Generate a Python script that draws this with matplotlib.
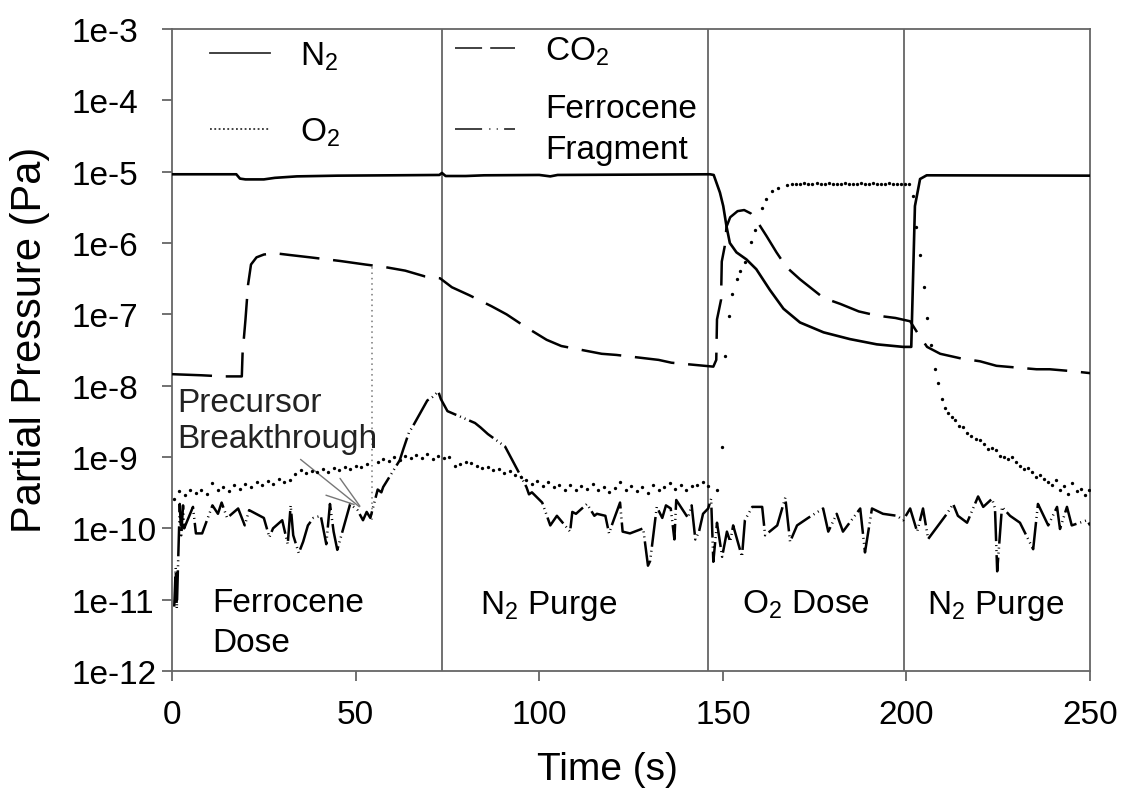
import numpy as np
import matplotlib
matplotlib.use('Agg')
import matplotlib.pyplot as plt
from matplotlib.lines import Line2D
from matplotlib.ticker import NullLocator

plt.rcParams['font.family'] = ['Liberation Sans', 'DejaVu Sans']
plt.rcParams['mathtext.fontset'] = 'custom'
plt.rcParams['mathtext.rm'] = 'Liberation Sans'
plt.rcParams['mathtext.it'] = 'Liberation Sans:italic'
plt.rcParams['mathtext.bf'] = 'Liberation Sans:bold'
plt.rcParams['mathtext.default'] = 'regular'

# ---- data ----
n2_time = [0, 17.5, 18.5, 20, 25, 28, 34, 45, 60, 72.8, 73.5, 74.5, 80, 85, 100, 103, 105,
           146.5, 147.5, 149.2, 150.1, 151, 151.9, 153.7, 156.4, 159.1, 162.8, 166.5, 171,
           177.4, 184.6, 191.9, 199.1, 201.3, 202.3, 203.7, 205.5, 250]
n2_pa = [9.2e-6, 9.2e-6, 8.0e-6, 7.8e-6, 7.8e-6, 8.2e-6, 8.6e-6, 8.8e-6, 8.9e-6, 9.0e-6, 9.6e-6,
         8.7e-6, 8.7e-6, 8.9e-6, 9.0e-6, 8.6e-6, 9.0e-6,
         9.2e-6, 9.0e-6, 5.1e-6, 3.3e-6, 1.7e-6, 1.0e-6, 7.4e-7, 5.9e-7, 4.3e-7, 2.2e-7, 1.2e-7, 7.7e-8,
         5.6e-8, 4.5e-8, 3.8e-8, 3.5e-8, 3.5e-8, 3.3e-6, 7.9e-6, 8.9e-6, 8.8e-6]

co2_time = [0, 8, 14, 19, 19.2, 20, 20.7, 21.5, 23, 25, 28, 32, 37.6, 45.8, 52.6, 58, 63.5, 68.9,
            73, 76.2, 81, 87, 91.1, 96, 102, 106, 117, 121, 132.5, 136, 147.4,
            148.2, 148.4, 149.5, 149.7, 150.5, 151, 152, 154, 155.8, 157.6, 159.1, 161.9, 164.6,
            167.3, 171, 177.4, 182, 187, 192, 197, 201, 202.9, 205.6, 209.2, 215, 220, 224.5,
            235.4, 239, 245, 250]
co2_pa = [1.45e-8, 1.4e-8, 1.35e-8, 1.35e-8, 2.8e-8, 8.5e-8, 2.6e-7, 5.0e-7, 6.3e-7, 6.9e-7, 7.2e-7,
          6.8e-7, 6.3e-7, 5.6e-7, 5.0e-7, 4.6e-7, 4.1e-7, 3.4e-7,
          3.2e-7, 2.4e-7, 1.85e-7, 1.3e-7, 1.0e-7, 6.8e-8, 4.4e-8, 3.6e-8, 2.8e-8, 2.7e-8, 2.3e-8,
          2.1e-8, 1.85e-8,
          2.3e-8, 8.5e-8, 1.6e-7, 5.5e-7, 9.0e-7, 1.7e-6, 2.3e-6, 2.8e-6, 2.9e-6, 2.6e-6, 2.1e-6,
          1.25e-6, 7.4e-7, 4.6e-7, 3.1e-7, 1.7e-7, 1.4e-7, 1.1e-7, 9.6e-8, 8.9e-8, 8.0e-8, 5.6e-8,
          3.5e-8, 2.8e-8, 2.4e-8, 2.2e-8, 1.9e-8, 1.7e-8, 1.7e-8, 1.6e-8, 1.5e-8]

o2_time = [0.5, 2, 3.5, 5, 6.5, 8, 9.5, 11, 12.5, 14,
           15.5, 17, 18.5, 20, 21.5, 23, 24.5, 26, 27.5, 29,
           30.5, 32, 33.5, 35, 36.5, 38, 39.5, 41, 42.5, 44,
           45.5, 47, 48.5, 50, 51.5, 53, 56, 57.5, 59, 60.5,
           62, 63.5, 65, 66.5, 68, 69.5, 71, 72.5, 74, 75.5,
           77, 78.5, 80, 81.5, 83, 84.5, 86, 87.5, 89, 90.5,
           92, 93.5, 95, 96.5, 98, 99.5, 101, 102.5, 104, 105.5,
           107, 108.5, 110, 111.5, 113, 114.5, 116, 117.5, 119, 120.5,
           122, 123.5, 125, 126.5, 128, 129.5, 131, 132.5, 134, 135.5,
           137, 138.5, 140, 141.5, 143, 144.5, 146, 148.5, 149.8, 150.6,
           151.7, 152.6, 153.8, 154.7, 156, 157.6, 158.8, 160.6, 161.7, 163.3,
           165.1, 167.4, 168.9, 170, 171.1, 172.2, 173.3, 174.4, 175.5, 176.6,
           177.7, 178.8, 179.9, 181, 182.1, 183.2, 184.3, 185.4, 186.5, 187.6,
           188.7, 189.8, 190.9, 192, 193.1, 194.2, 195.3, 196.4, 197.5, 198.6,
           199.7, 200.8, 201.8, 202.6, 203.7, 204.7, 205.6, 206.7, 207.7, 208.7,
           209.7, 210.5, 211.4, 212.3, 213.3, 214.4, 215.5, 216.6, 217.7, 218.8,
           219.9, 221, 222.1, 223.2, 224.3, 225.4, 226.5, 227.6, 228.7, 229.8,
           230.9, 232, 233.1, 234.2, 235.3, 236.4, 237.5, 238.6, 239.7, 240.8,
           241.9, 243, 244.1, 245.2, 246.3, 247.4, 248.5, 249.6]
o2_pa = [2.6e-10, 3.3e-10, 2.9e-10, 3.5e-10, 3.1e-10, 3.4e-10, 3.0e-10, 4.3e-10, 3.4e-10, 3.8e-10,
         3.3e-10, 4.0e-10, 3.6e-10, 4.2e-10, 3.8e-10, 4.5e-10, 4.0e-10, 4.6e-10, 4.2e-10, 5.0e-10,
         4.4e-10, 4.8e-10, 5.8e-10, 6.6e-10, 6.0e-10, 6.4e-10, 6.1e-10, 6.7e-10, 6.2e-10, 7.0e-10,
         6.5e-10, 7.3e-10, 6.9e-10, 7.6e-10, 7.2e-10, 8.0e-10, 8.6e-10, 9.3e-10, 8.8e-10, 1.0e-9,
         9.2e-10, 1.05e-9, 9.6e-10, 1.08e-9, 9.8e-10, 1.1e-9, 9.5e-10, 1.03e-9, 9.7e-10, 1.0e-9,
         7.4e-10, 8.0e-10, 8.6e-10, 8.2e-10, 7.6e-10, 7.0e-10, 7.3e-10, 6.6e-10, 6.8e-10, 6.0e-10,
         6.3e-10, 5.6e-10, 5.3e-10, 4.8e-10, 4.2e-10, 4.6e-10, 3.9e-10, 4.4e-10, 3.8e-10, 4.1e-10,
         3.5e-10, 4.0e-10, 3.4e-10, 3.9e-10, 3.6e-10, 4.2e-10, 3.5e-10, 3.8e-10, 3.2e-10, 3.7e-10,
         4.4e-10, 3.4e-10, 3.9e-10, 3.3e-10, 3.8e-10, 3.1e-10, 4.0e-10, 3.5e-10, 3.8e-10, 4.3e-10,
         3.6e-10, 4.0e-10, 3.4e-10, 3.9e-10, 4.1e-10, 4.5e-10, 3.9e-10, 3.5e-10, 1.4e-9, 2.6e-8,
         9.5e-8, 1.9e-7, 3.1e-7, 4.1e-7, 5.4e-7, 1.02e-6, 1.5e-6, 3.1e-6, 4.1e-6, 5.4e-6,
         6.0e-6, 6.5e-6, 6.7e-6, 6.8e-6, 6.8e-6, 6.9e-6, 6.8e-6, 6.8e-6, 6.9e-6, 6.8e-6,
         6.8e-6, 6.9e-6, 6.8e-6, 6.8e-6, 6.8e-6, 6.9e-6, 6.8e-6, 6.8e-6, 6.8e-6, 6.9e-6,
         6.8e-6, 6.8e-6, 6.9e-6, 6.8e-6, 6.8e-6, 6.8e-6, 6.9e-6, 6.8e-6, 6.8e-6, 6.8e-6,
         6.8e-6, 6.8e-6, 4.5e-6, 1.7e-6, 6.7e-7, 2.4e-7, 9.0e-8, 3.7e-8, 1.7e-8, 1.1e-8,
         6.5e-9, 4.8e-9, 4.2e-9, 3.6e-9, 3.3e-9, 2.7e-9, 2.6e-9, 2.2e-9, 2.0e-9, 1.8e-9,
         1.75e-9, 1.5e-9, 1.3e-9, 1.35e-9, 1.25e-9, 1.05e-9, 1.0e-9, 9.3e-10, 1.0e-9, 8.5e-10,
         7.5e-10, 6.8e-10, 7.0e-10, 6.2e-10, 5.3e-10, 5.6e-10, 4.9e-10, 4.4e-10, 4.0e-10, 4.7e-10,
         3.4e-10, 3.9e-10, 3.0e-10, 4.3e-10, 3.3e-10, 3.6e-10, 2.9e-10, 3.5e-10]

frag_time = [0.6, 1.0, 1.3, 1.6, 1.9, 2.1, 2.5, 3.0, 3.3, 5.7, 6.5, 8.2, 11, 12.5, 13.5, 15, 18,
             19.8, 21, 25, 26.5, 27.5, 30, 31.5, 32.3, 33, 34.5, 35.7, 37, 38.5, 40.5, 42, 43,
             44, 45, 48.5, 50.5, 52, 53, 54, 56, 57, 57.5, 62, 63, 64.5, 65.4, 69.5, 71, 72.5,
             73.2, 75, 82.5, 84, 86, 90.7, 94.8, 96.5, 97.2, 98, 100.8, 103, 104.8, 108.4, 109,
             110, 111.6, 113, 115, 115.7, 118, 119, 120, 122, 122.7, 124.7, 128.3, 129.6, 130.2,
             132, 133.5, 134.5, 135.8, 136.8, 137.3, 138.8, 140.5, 141.5, 142.5, 143.5, 144.6,
             146, 146.8, 147.4, 148.4, 149.8, 151.1, 152, 152.8, 155.2, 156, 158, 160.7, 161.5,
             164.8, 167, 168.3, 170.2, 173.2, 177.3, 178.7, 181, 182.7, 187.4, 188.7, 190.6,
             193.6, 197.4, 199.1, 201, 202.9, 204.5, 205.9, 211, 212.7, 214, 216.5, 219.5, 220.9,
             223.3, 224.1, 224.7, 226, 228.2, 230.9, 234.5, 235.8, 238.6, 241, 241.8, 243.7, 245,
             249.2, 250]
frag_pa = [8e-12, 2.8e-11, 7.5e-12, 2.6e-11, 8e-11, 2.2e-10, 8e-11, 2.1e-10, 1e-10, 2e-10, 8.5e-11,
           8.5e-11, 2.1e-10, 1.6e-10, 2.3e-10, 1.4e-10, 1.9e-10,
           1.1e-10, 1.8e-10, 1.4e-10, 7.5e-11, 1e-10, 1.3e-10, 6e-11, 2.1e-10, 8e-11, 4.5e-11,
           6.5e-11, 1.1e-10, 1.4e-10, 1.5e-10, 6e-11, 2.2e-10,
           9e-11, 5e-11, 2.2e-10, 1.8e-10, 1.3e-10, 1.7e-10, 1.4e-10, 3.5e-10, 3.2e-10, 3.8e-10,
           9e-10, 1.3e-9, 2.2e-9, 2.6e-9, 6.2e-9, 7e-9, 8.3e-9,
           6.5e-9, 4.4e-9, 3e-9, 2.6e-9, 2.1e-9, 1.4e-9, 5.6e-10, 3.8e-10, 3e-10, 3.2e-10, 2.3e-10,
           1.1e-10, 1.5e-10, 9e-11, 1.7e-10,
           1.6e-10, 1.9e-10, 2.2e-10, 1.5e-10, 1.6e-10, 1.5e-10, 8.5e-11, 1.2e-10, 2.3e-10, 9e-11,
           8.5e-11, 1e-10, 3e-11, 3.5e-11,
           2e-10, 1.4e-10, 2.1e-10, 1.9e-10, 7e-11, 2.5e-10, 1.9e-10, 1.4e-10, 2.1e-10, 7e-11,
           9e-11, 1.6e-10,
           1.9e-10, 2.6e-10, 3.4e-11, 1.2e-10, 4e-11, 9e-11, 6.5e-11, 1.1e-10, 4e-11, 1.3e-10,
           2e-10, 2e-10, 8e-11,
           1.1e-10, 2.7e-10, 6.5e-11, 1.1e-10, 1.4e-10, 1.9e-10, 9e-11, 1.6e-10, 9e-11, 1.9e-10,
           4.6e-11, 1.9e-10,
           1.6e-10, 1.5e-10, 1.3e-10, 1.9e-10, 9e-11, 1.9e-10, 7.1e-11, 1.6e-10, 2.2e-10, 1.5e-10,
           1.2e-10, 2.8e-10, 2e-10,
           2.6e-10, 1.9e-10, 2.5e-11, 2e-10, 1.5e-10, 1.2e-10, 5.1e-11, 2.2e-10, 1.1e-10, 2e-10,
           9.8e-11, 2e-10, 1.1e-10,
           1.3e-10, 1.1e-10]

phase_bounds = [73.5, 146.0, 199.4]
phase_labels = ['Ferrocene\nDose', 'N$_2$ Purge', 'O$_2$ Dose', 'N$_2$ Purge']
phase_label_t = [10.9, 83.9, 155.2, 205.6]
# baseline of the last line of each label
phase_label_y = [1.9e-12, 6.6e-12, 6.6e-12, 6.6e-12]

breakthrough_t = 54.5
breakthrough_span = [1.3e-10, 4.8e-7]
breakthrough_label_pos = (1.4, 1.4e-9)
pointer_from = [(34.4, 9.8e-10), (45.3, 5.4e-10), (41.2, 3.0e-10)]
pointer_to = [(51.6, 1.9e-10), (51.6, 1.9e-10), (50.3, 2.1e-10)]

xtick_vals = [0, 50, 100, 150, 200, 250]
ytick_vals = [1e-12, 1e-11, 1e-10, 1e-9, 1e-8, 1e-7, 1e-6, 1e-5, 1e-4, 1e-3]
ytick_labels = ['1e-12', '1e-11', '1e-10', '1e-9', '1e-8', '1e-7', '1e-6', '1e-5', '1e-4', '1e-3']

frame_c = '#666666'

fig = plt.figure(figsize=(11.23, 8.03), dpi=100)
ax = fig.add_axes([0.1532, 0.1631, 0.8175, 0.7995])
ax.set_yscale('log')
ax.set_xlim(0, 250)
ax.set_ylim(1e-12, 1e-3)

for t in phase_bounds:
    ax.axvline(t, color=frame_c, lw=1.3, zorder=1)

ax.plot(frag_time, frag_pa, color='black', lw=1.8, dashes=(12, 1.6, 0.4, 1.6, 0.4, 1.6), zorder=3)
ax.plot(co2_time, co2_pa, color='black', lw=1.8, dashes=(16, 5.5), zorder=3)
ax.plot(n2_time, n2_pa, color='black', lw=1.9, zorder=3)
ax.plot(o2_time, o2_pa, ls='none', marker='o', ms=2.4, mew=0, color='black', zorder=4)

# breakthrough marker
ax.vlines(breakthrough_t, breakthrough_span[0], breakthrough_span[1], colors='#777777',
          linestyles=(0, (1, 2.5)), lw=1.1, zorder=2)
ax.text(*breakthrough_label_pos, 'Precursor\nBreakthrough', fontsize=24, color='#222222',
        va='baseline', ha='left', linespacing=1.2)
for p0, p1 in zip(pointer_from, pointer_to):
    ax.annotate('', xy=p1, xytext=p0,
                arrowprops=dict(arrowstyle='-', color='#777777', lw=1.0))

for lab, t, y in zip(phase_labels, phase_label_t, phase_label_y):
    ax.text(t, y, lab, fontsize=24, ha='left', va='baseline', linespacing=1.4)

# legends (two columns, built separately so rows line up like the original)
h_n2 = Line2D([], [], color='#333333', lw=1.3)
h_o2 = Line2D([], [], color='#333333', lw=1.3, ls=(0, (1, 1.4)))
h_co2 = Line2D([], [], color='#333333', lw=1.3, ls=(0, (15, 4.5)))
h_frag = Line2D([], [], color='#333333', lw=1.3, ls=(0, (15, 4, 0.6, 3.5, 0.6, 3.5)))

leg1 = ax.legend([h_n2, h_o2], ['N$_2$', 'O$_2$'], loc='upper left',
                 bbox_to_anchor=(0.0414, 0.983), frameon=False, fontsize=24,
                 handlelength=1.8, handletextpad=0.9, labelspacing=1.3,
                 borderpad=0, borderaxespad=0)
ax.add_artist(leg1)
leg2 = ax.legend([h_co2, h_frag], ['CO$_2$', 'Ferrocene\nFragment'], loc='upper left',
                 bbox_to_anchor=(0.308, 0.992), frameon=False, fontsize=24,
                 handlelength=1.8, handletextpad=0.9, labelspacing=0.8,
                 borderpad=0, borderaxespad=0)
leg2.get_texts()[1].set_linespacing(1.4)

ax.set_xticks(xtick_vals)
ax.set_yticks(ytick_vals)
ax.set_yticklabels(ytick_labels, ha='left')
ax.yaxis.set_minor_locator(NullLocator())
ax.tick_params(axis='both', direction='out', length=7.2, width=1.3, color=frame_c,
               labelsize=24, labelcolor='black')
ax.tick_params(axis='y', pad=65)
ax.tick_params(axis='x', pad=13)

for s in ax.spines.values():
    s.set_color(frame_c)
    s.set_linewidth(1.3)

ax.set_xlabel('Time (s)', fontsize=28)
ax.set_ylabel('Partial Pressure (Pa)', fontsize=30)
ax.xaxis.set_label_coords(0.474, -0.125)
ax.yaxis.set_label_coords(-0.133, 0.517)

fig.savefig('out.png', dpi=100)
